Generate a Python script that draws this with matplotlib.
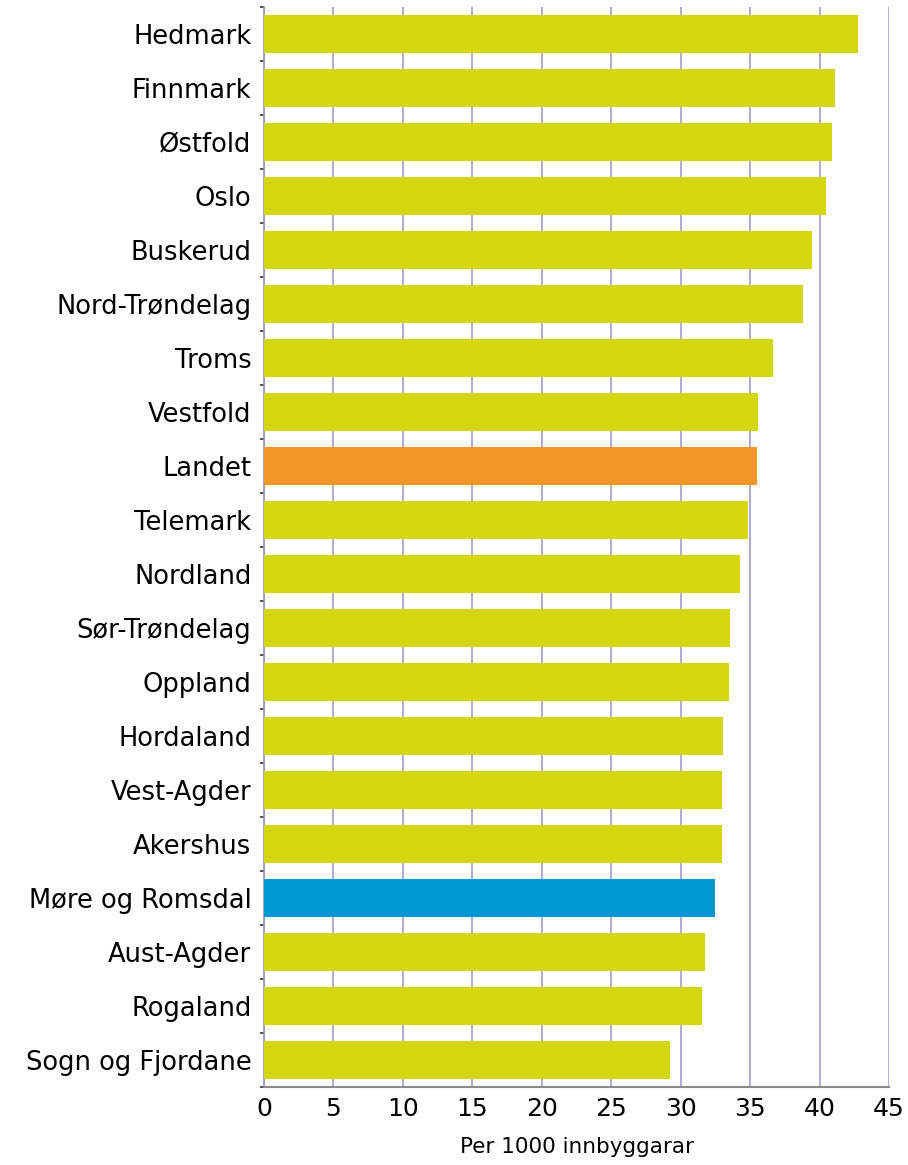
import matplotlib
matplotlib.use("Agg")
import matplotlib.pyplot as plt
import numpy as np

fylke = ['Hedmark', 'Finnmark', 'Østfold', 'Oslo', 'Buskerud', 'Nord-Trøndelag',
         'Troms', 'Vestfold', 'Landet', 'Telemark', 'Nordland', 'Sør-Trøndelag',
         'Oppland', 'Hordaland', 'Vest-Agder', 'Akershus', 'Møre og Romsdal',
         'Aust-Agder', 'Rogaland', 'Sogn og Fjordane']
per_1000 = [42.8, 41.1, 40.9, 40.45, 39.45, 38.8, 36.65, 35.55, 35.5, 34.85,
            34.3, 33.55, 33.5, 33.05, 32.95, 32.95, 32.45, 31.75, 31.55, 29.25]
xticks = [0, 5, 10, 15, 20, 25, 30, 35, 40, 45]

GREEN = '#d4d60f'
ORANGE = '#f39626'
BLUE = '#0098d4'
colors = []
for f in fylke:
    if f == 'Landet':
        colors.append(ORANGE)
    elif f == 'Møre og Romsdal':
        colors.append(BLUE)
    else:
        colors.append(GREEN)

fig = plt.figure(figsize=(9.08, 11.65), dpi=100)
ax = fig.add_axes([264/908, 78/1165, 625/908, 1080/1165])

y = np.arange(len(fylke))
ax.barh(y, per_1000, height=0.72, color=colors, zorder=3)

ax.set_ylim(len(fylke) - 0.5, -0.5)
ax.set_xlim(0, 45)
ax.set_xticks(xticks)
ax.set_xticklabels([str(t) for t in xticks], fontsize=18)
ax.set_yticks(y)
ax.set_yticklabels(fylke, fontsize=18.5)
ax.set_yticks(np.arange(len(fylke) + 1) - 0.5, minor=True)
ax.tick_params(axis='y', which='major', length=0, pad=9)
ax.tick_params(axis='y', which='minor', length=3, width=1.2, color='#333333')
ax.tick_params(axis='x', length=0, pad=7)

ax.grid(axis='x', color='#aaa3d3', linewidth=1.3, zorder=0)
ax.set_axisbelow(True)
for s in ['top', 'right']:
    ax.spines[s].set_visible(False)
ax.spines['left'].set_color('#9a95b8')
ax.spines['bottom'].set_color('#8a8a8a')
ax.spines['left'].set_linewidth(1.2)
ax.spines['bottom'].set_linewidth(1.5)

ax.set_xlabel('Per 1000 innbyggarar', fontsize=15.5, labelpad=12)

fig.savefig('out.png', dpi=100)
